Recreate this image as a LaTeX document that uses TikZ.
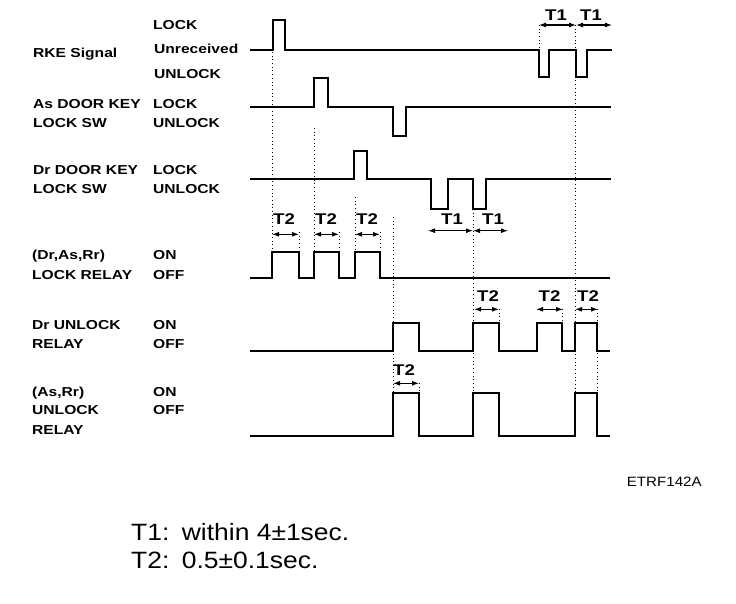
\documentclass[tikz,border=0pt]{standalone}
\usepackage{fontspec}
\setmainfont{Liberation Sans}
\newfontfamily\labfont[FakeStretch=1.2]{Liberation Sans}
\newfontfamily\notefont[FakeStretch=1.12]{Liberation Sans}
\usetikzlibrary{arrows.meta}
\tikzset{
  wave/.style={line width=2pt, line join=miter},
  guide/.style={line width=0.9pt, dash pattern=on 0.9pt off 2.8pt},
  dim/.style={line width=1.1pt, {Latex[length=7pt,width=5pt]}-{Latex[length=7pt,width=5pt]}},
  lab/.style={anchor=base west, inner sep=0pt, font=\labfont\bfseries\fontsize{13}{15}\selectfont},
  tlab/.style={anchor=base, inner sep=0pt, font=\labfont\bfseries\fontsize{15.5}{17}\selectfont},
  note/.style={anchor=base west, inner sep=0pt, font=\notefont\fontsize{23.6}{28}\selectfont},
  code/.style={anchor=base west, inner sep=0pt, font=\notefont\fontsize{13.5}{16}\selectfont},
}
\begin{document}
\begin{tikzpicture}[x=1pt,y=-1pt]
\useasboundingbox[fill=white] (0,0) rectangle (736,604);

% ---- left labels ----
\node[lab] (rke) at (33,57.5) {RKE Signal};
\node[lab] (rkeL) at (153,29.5) {LOCK};
\node[lab] (rkeU) at (154,54) {Unreceived};
\node[lab] (rkeUL) at (154,78.8) {UNLOCK};

\node[lab] (as1) at (33,108.3) {As DOOR KEY};
\node[lab] (as2) at (33,127.3) {LOCK SW};
\node[lab] (asL) at (153,108.3) {LOCK};
\node[lab] (asU) at (153,127.3) {UNLOCK};

\node[lab] (dr1) at (33,174.3) {Dr DOOR KEY};
\node[lab] (dr2) at (33,194) {LOCK SW};
\node[lab] (drL) at (153,174.3) {LOCK};
\node[lab] (drU) at (153,194) {UNLOCK};

\node[lab] (lr1) at (32,259.5) {(Dr,As,Rr)};
\node[lab] (lr2) at (32,279) {LOCK RELAY};
\node[lab] (lrOn) at (153,259.5) {ON};
\node[lab] (lrOff) at (153,279) {OFF};

\node[lab] (du1) at (32,329) {Dr UNLOCK};
\node[lab] (du2) at (32,348.5) {RELAY};
\node[lab] (duOn) at (153,329) {ON};
\node[lab] (duOff) at (153,348.5) {OFF};

\node[lab] (au1) at (32,396.5) {(As,Rr)};
\node[lab] (au2) at (32,414.5) {UNLOCK};
\node[lab] (au3) at (32,434) {RELAY};
\node[lab] (auOn) at (153,396.5) {ON};
\node[lab] (auOff) at (153,414.5) {OFF};

% ---- waveforms ----
\draw[wave] (250,50) -- (273,50) -- (273,20) -- (285,20) -- (285,50) -- (539,50) -- (539,77) -- (549,77) -- (549,50) -- (576,50) -- (576,77) -- (587,77) -- (587,50) -- (612,50);
\draw[wave] (250,107) -- (314,107) -- (314,78) -- (328,78) -- (328,107) -- (393,107) -- (393,136) -- (406,136) -- (406,107) -- (611,107);
\draw[wave] (250,179) -- (354,179) -- (354,151) -- (367,151) -- (367,179) -- (431,179) -- (431,209) -- (448,209) -- (448,179) -- (473,179) -- (473,209) -- (486,209) -- (486,179) -- (611,179);
\draw[wave] (250,278) -- (272,278) -- (272,252) -- (299,252) -- (299,278) -- (314,278) -- (314,252) -- (339,252) -- (339,278) -- (355,278) -- (355,252) -- (380,252) -- (380,278) -- (610,278);
\draw[wave] (250,351) -- (393,351) -- (393,323) -- (419,323) -- (419,351) -- (473,351) -- (473,323) -- (499,323) -- (499,351) -- (537,351) -- (537,323) -- (562,323) -- (562,351) -- (575,351) -- (575,323) -- (597,323) -- (597,351) -- (610,351);
\draw[wave] (250,436) -- (393,436) -- (393,393) -- (419,393) -- (419,436) -- (473,436) -- (473,393) -- (499,393) -- (499,436) -- (575,436) -- (575,393) -- (597,393) -- (597,436) -- (610,436);

% ---- dotted guides ----
\draw[guide] (272,52) -- (272,252);
\draw[guide] (314,128) -- (314,252);
\draw[guide] (355,197) -- (355,252);
\draw[guide] (299,232) -- (299,252);
\draw[guide] (339,232) -- (339,252);
\draw[guide] (380,232) -- (380,252);
\draw[guide] (393,217) -- (393,393);
\draw[guide] (473,209) -- (473,393);
\draw[guide] (539,25) -- (539,50);
\draw[guide] (575,25) -- (575,393);
\draw[guide] (597,309) -- (597,393);
\draw[guide] (419,383) -- (419,393);
\draw[guide] (499,309) -- (499,323);
\draw[guide] (562,309) -- (562,323);

% ---- timing arrows ----
\draw[dim] (539,25) -- (576,25);
\draw[dim] (576,25) -- (612,25);
\node[tlab] (t1a) at (556,20.7) {T1};
\node[tlab] (t1b) at (591,20.7) {T1};

\draw[dim] (272,234.3) -- (299,234.3);
\draw[dim] (314,234.3) -- (339,234.3);
\draw[dim] (355,234.3) -- (380,234.3);
\node[tlab] (t2a) at (284,225) {T2};
\node[tlab] (t2b) at (326,225) {T2};
\node[tlab] (t2c) at (367,225) {T2};

\draw[dim] (428,230.7) -- (473,230.7);
\draw[dim] (473,230.7) -- (508,230.7);
\node[tlab] (t1c) at (452,225) {T1};
\node[tlab] (t1d) at (493,225) {T1};

\draw[dim] (474,309.3) -- (499,309.3);
\draw[dim] (536,309.3) -- (563,309.3);
\draw[dim] (575,309.3) -- (598,309.3);
\node[tlab] (t2d) at (488,301.7) {T2};
\node[tlab] (t2e) at (549.5,301.7) {T2};
\node[tlab] (t2f) at (588,301.7) {T2};

\draw[dim] (393,383.3) -- (419,383.3);
\node[tlab] (t2g) at (404,375) {T2};

% ---- notes ----
\node[code] (fig) at (626.7,486.7) {ETRF142A};
\node[note] (n1) at (131,540.7) {\makebox[50.7pt][l]{T1:}within 4±1sec.};
\node[note] (n2) at (131,568.3) {\makebox[50.7pt][l]{T2:}0.5±0.1sec.};
\end{tikzpicture}
\end{document}
